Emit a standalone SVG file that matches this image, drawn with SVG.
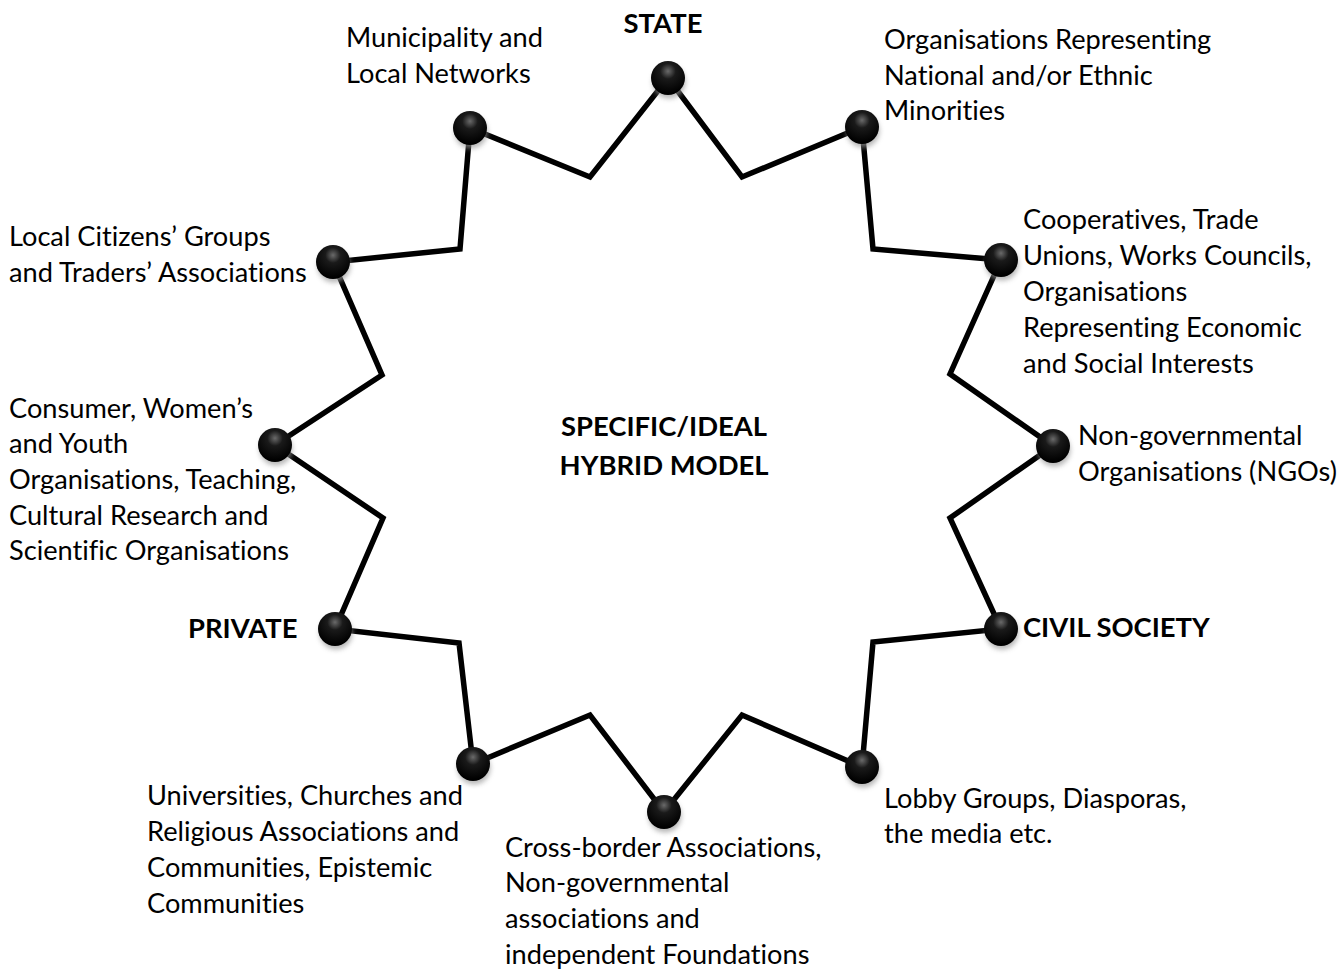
<svg xmlns="http://www.w3.org/2000/svg" width="1344" height="970" viewBox="0 0 1344 970">
<style>
.t{font-family:Lato,"Liberation Sans",sans-serif;font-size:27.2px;fill:#000;font-variant-ligatures:none}
.b{font-family:Lato,"Liberation Sans",sans-serif;font-size:27.4px;font-weight:bold;fill:#000;font-variant-ligatures:none}
.edge{fill:none;stroke:#000;stroke-width:5.5;stroke-linejoin:miter}
</style>
<defs>
<radialGradient id="ball" cx="0.5" cy="0.3" r="0.65">
<stop offset="0" stop-color="#6a6a6a"/>
<stop offset="0.35" stop-color="#1a1a1a"/>
<stop offset="1" stop-color="#000"/>
</radialGradient>
<filter id="sh" x="-50%" y="-50%" width="200%" height="200%">
<feGaussianBlur stdDeviation="2.5"/>
</filter>
<g id="dot">
<ellipse cx="1" cy="4" rx="16.5" ry="16.5" fill="#999" opacity="0.7" filter="url(#sh)"/>
<circle r="17" fill="url(#ball)"/>
</g>
</defs>
<rect width="1344" height="970" fill="#fff"/>
<g id="connectors">
<polygon class="edge" points="668,78 742,177 862,127 873,249 1001,260 950,374 1053,446 950,518 1001,629 873,642 862,767 742,715 664,812 590,715 473,764 459,643 335,629 383,518 275,445 382,375 333,262 460,249 470,128 590,177"/>
</g>
<g id="center">
<text class="b" x="664" y="436" text-anchor="middle">SPECIFIC/IDEAL</text>
<text class="b" x="664" y="475" text-anchor="middle">HYBRID MODEL</text>
</g>
<g id="state">
<use href="#dot" x="668" y="78"/>
<text class="b" x="663" y="33" text-anchor="middle">STATE</text>
</g>
<g id="minorities">
<use href="#dot" x="862" y="127"/>
<text class="t" x="884" y="49">Organisations Representing</text>
<text class="t" x="884" y="85">National and/or Ethnic</text>
<text class="t" x="884" y="120">Minorities</text>
</g>
<g id="cooperatives">
<use href="#dot" x="1001" y="260"/>
<text class="t" x="1023" y="229">Cooperatives, Trade</text>
<text class="t" x="1023" y="265">Unions, Works Councils,</text>
<text class="t" x="1023" y="301">Organisations</text>
<text class="t" x="1023" y="337">Representing Economic</text>
<text class="t" x="1023" y="373">and Social Interests</text>
</g>
<g id="ngos">
<use href="#dot" x="1053" y="446"/>
<text class="t" x="1078" y="445">Non-governmental</text>
<text class="t" x="1078" y="481">Organisations (NGOs)</text>
</g>
<g id="civil-society">
<use href="#dot" x="1001" y="629"/>
<text class="b" x="1023" y="637">CIVIL SOCIETY</text>
</g>
<g id="lobby">
<use href="#dot" x="862" y="767"/>
<text class="t" x="884" y="808">Lobby Groups, Diasporas,</text>
<text class="t" x="884" y="843">the media etc.</text>
</g>
<g id="cross-border">
<use href="#dot" x="664" y="812"/>
<text class="t" x="505" y="857">Cross-border Associations,</text>
<text class="t" x="505" y="892">Non-governmental</text>
<text class="t" x="505" y="928">associations and</text>
<text class="t" x="505" y="964">independent Foundations</text>
</g>
<g id="universities">
<use href="#dot" x="473" y="764"/>
<text class="t" x="147" y="805">Universities, Churches and</text>
<text class="t" x="147" y="841">Religious Associations and</text>
<text class="t" x="147" y="877">Communities, Epistemic</text>
<text class="t" x="147" y="913">Communities</text>
</g>
<g id="private">
<use href="#dot" x="335" y="629"/>
<text class="b" x="188" y="638">PRIVATE</text>
</g>
<g id="consumer">
<use href="#dot" x="275" y="445"/>
<text class="t" x="9" y="418">Consumer, Women’s</text>
<text class="t" x="9" y="453">and Youth</text>
<text class="t" x="9" y="489">Organisations, Teaching,</text>
<text class="t" x="9" y="525">Cultural Research and</text>
<text class="t" x="9" y="560">Scientific Organisations</text>
</g>
<g id="citizens">
<use href="#dot" x="333" y="262"/>
<text class="t" x="9" y="246">Local Citizens’ Groups</text>
<text class="t" x="9" y="282">and Traders’ Associations</text>
</g>
<g id="municipality">
<use href="#dot" x="470" y="128"/>
<text class="t" x="346" y="47">Municipality and</text>
<text class="t" x="346" y="83">Local Networks</text>
</g>
</svg>
